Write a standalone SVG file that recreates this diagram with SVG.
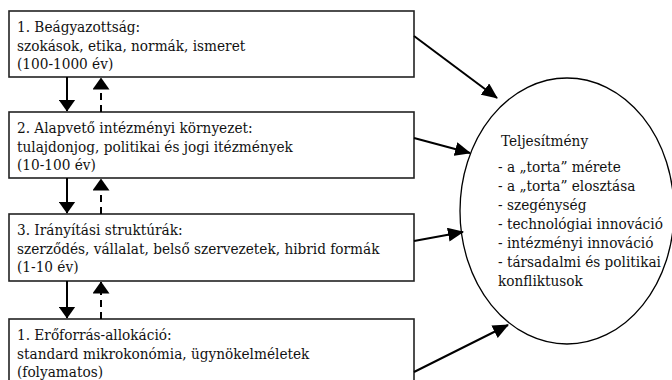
<svg xmlns="http://www.w3.org/2000/svg" width="672" height="380" viewBox="0 0 672 380">
<defs>
<style>
.box{fill:#fff;stroke:#222;stroke-width:1.6}
.t{font-family:'DejaVu Serif Condensed','DejaVu Serif','Liberation Serif',serif;font-stretch:condensed;font-size:15.2px;fill:#111}
.c{stroke:#000;stroke-width:2;fill:none}
.d{stroke-dasharray:7 5}
</style>
<marker id="ah" markerWidth="16" markerHeight="14" viewBox="0 0 16 14" refX="15" refY="7" orient="auto" markerUnits="userSpaceOnUse">
<path d="M0,0 L16,7 L0,14 z" fill="#000"/>
</marker>
<marker id="av" markerWidth="12" markerHeight="17" viewBox="0 0 12 17" refX="11.5" refY="8.5" orient="auto" markerUnits="userSpaceOnUse">
<path d="M0,0 L12,8.5 L0,17 z" fill="#000"/>
</marker>
</defs>
<rect width="672" height="380" fill="#fff"/>
<g id="n1">
<rect class="box" x="9" y="11" width="405" height="66"/>
<text class="t" x="17" y="32">1. Beágyazottság:</text>
<text class="t" x="17" y="51">szokások, etika, normák, ismeret</text>
<text class="t" x="17" y="69">(100-1000 év)</text>
</g>
<g id="n2">
<rect class="box" x="9" y="112" width="405" height="66"/>
<text class="t" x="17" y="133">2. Alapvető intézményi környezet:</text>
<text class="t" x="17" y="152">tulajdonjog, politikai és jogi itézmények</text>
<text class="t" x="17" y="170">(10-100 év)</text>
</g>
<g id="n3">
<rect class="box" x="9" y="214" width="405" height="67"/>
<text class="t" x="17" y="235">3. Irányítási struktúrák:</text>
<text class="t" x="17" y="254">szerződés, vállalat, belső szervezetek, hibrid formák</text>
<text class="t" x="17" y="272">(1-10 év)</text>
</g>
<g id="n4">
<rect class="box" x="9" y="319" width="405" height="70"/>
<text class="t" x="17" y="340">1. Erőforrás-allokáció:</text>
<text class="t" x="17" y="359">standard mikrokonómia, ügynökelméletek</text>
<text class="t" x="17" y="377">(folyamatos)</text>
</g>
<g id="n5">
<ellipse cx="567" cy="211" rx="107" ry="133" fill="#fff" stroke="#000" stroke-width="1.3"/>
<text class="t" x="501" y="146">Teljesítmény</text>
<text class="t" x="498" y="172">- a „torta” mérete</text>
<text class="t" x="498" y="191">- a „torta” elosztása</text>
<text class="t" x="498" y="210">- szegénység</text>
<text class="t" x="498" y="229">- technológiai innováció</text>
<text class="t" x="498" y="248">- intézményi innováció</text>
<text class="t" x="498" y="267">- társadalmi és politikai</text>
<text class="t" x="498" y="286">konfliktusok</text>
</g>
<g id="connectors">
<path class="c" d="M414,36 L497,98" marker-end="url(#ah)"/>
<path class="c" d="M414,138 L470,153" marker-end="url(#ah)"/>
<path class="c" d="M414,241 L463,232" marker-end="url(#ah)"/>
<path class="c" d="M414,372 L508,325" marker-end="url(#ah)"/>
<path class="c" d="M67,77 L67,111" marker-end="url(#av)"/>
<path class="c d" d="M101,112 L101,78" marker-end="url(#av)"/>
<path class="c" d="M67,178 L67,213" marker-end="url(#av)"/>
<path class="c d" d="M101,214 L101,179" marker-end="url(#av)"/>
<path class="c" d="M67,281 L67,318" marker-end="url(#av)"/>
<path class="c d" d="M101,319 L101,282" marker-end="url(#av)"/>
</g>
</svg>
